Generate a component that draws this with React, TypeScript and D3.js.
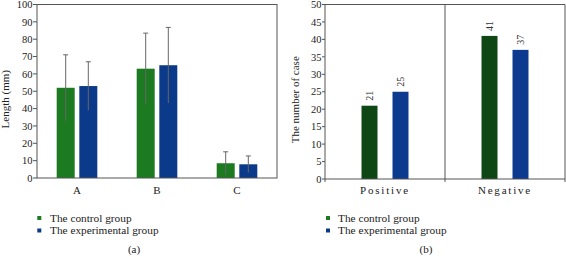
import React from "react";
import * as d3 from "d3";

const catsA = ["A", "B", "C"];
const controlA = [52, 63, 8.5];
const controlErrA = [19, 20.5, 6.6];
const expA = [53, 65, 7.9];
const expErrA = [14, 21.8, 4.8];
const ticksA = [0, 10, 20, 30, 40, 50, 60, 70, 80, 90, 100];

const catsB = ["Positive", "Negative"];
const controlB = [21, 41];
const expB = [25, 37];
const ticksB = [0, 5, 10, 15, 20, 25, 30, 35, 40, 45, 50];

const legendLabels = ["The control group", "The experimental group"];

const FONT = '"Liberation Serif", "DejaVu Serif", serif';

export default function App() {
  // Chart (a)
  const ax0 = 37, ax1 = 277, ay0 = 4.5, ay1 = 178;
  const xA = d3.scaleBand().domain(catsA).range([ax0, ax1]);
  const yA = d3.scaleLinear().domain([0, 100]).range([ay1, ay0]);
  const bwA = 18, offA = 11.3;
  const greenA = "#1c7a20", blueA = "#0c3a8a";

  // Chart (b)
  const bx0 = 325, bx1 = 565, by0 = 4.5, by1 = 179;
  const xB = d3.scaleBand().domain(catsB).range([bx0, bx1]);
  const yB = d3.scaleLinear().domain([0, 50]).range([by1, by0]);
  const bwB = 16, offB = 15.5;
  const greenB = "#0e4614", blueB = "#0b3a8e";

  const errBar = (cx: number, v: number, e: number, key: string) => (
    <g key={key} stroke="#666" strokeWidth={1}>
      <line x1={cx} x2={cx} y1={yA(v + e)} y2={yA(Math.max(0, v - e))} />
      <line x1={cx - 2.5} x2={cx + 2.5} y1={yA(v + e)} y2={yA(v + e)} />
    </g>
  );

  const tf = { fontFamily: FONT } as React.CSSProperties;

  return (
    <svg width={566} height={257} style={{ position: "absolute", left: 0, top: 0, background: "#fff", fontFamily: FONT }}>
      {/* ===== Chart (a) ===== */}
      {catsA.map((c, i) => {
        const cx = xA(c)! + xA.bandwidth() / 2;
        return (
          <g key={c}>
            <rect x={cx - offA - bwA / 2} y={yA(controlA[i])} width={bwA} height={yA(0) - yA(controlA[i])} fill={greenA} />
            <rect x={cx + offA - bwA / 2} y={yA(expA[i])} width={bwA} height={yA(0) - yA(expA[i])} fill={blueA} />
            {errBar(cx - offA, controlA[i], controlErrA[i], "c" + c)}
            {errBar(cx + offA, expA[i], expErrA[i], "e" + c)}
            <text style={tf} x={cx} y={194} textAnchor="middle" fontSize={11} fill="#222">{c}</text>
          </g>
        );
      })}
      <rect x={ax0} y={ay0} width={ax1 - ax0} height={ay1 - ay0} fill="none" stroke="#555" strokeWidth={1} />
      {ticksA.map((t) => (
        <g key={t}>
          <line x1={ax0 - 4} x2={ax0} y1={yA(t)} y2={yA(t)} stroke="#555" />
          <text style={tf} x={32.5} y={yA(t)} dy="0.35em" textAnchor="end" fontSize={10.5} fill="#222">{t}</text>
        </g>
      ))}
      <text style={tf} transform={`translate(9,${(ay0 + ay1) / 2 + 8}) rotate(-90)`} textAnchor="middle" fontSize={11} fill="#222">Length (mm)</text>

      {/* ===== Chart (b) ===== */}
      {catsB.map((c, i) => {
        const cx = xB(c)! + xB.bandwidth() / 2;
        const gx = cx - offB, bx = cx + offB;
        return (
          <g key={c}>
            <rect x={gx - bwB / 2} y={yB(controlB[i])} width={bwB} height={yB(0) - yB(controlB[i])} fill={greenB} />
            <rect x={bx - bwB / 2} y={yB(expB[i])} width={bwB} height={yB(0) - yB(expB[i])} fill={blueB} />
            <text style={tf} transform={`translate(${gx + 3.5},${yB(controlB[i]) - 5}) rotate(-90)`} fontSize={10} fill="#333">{controlB[i]}</text>
            <text style={tf} transform={`translate(${bx + 3.5},${yB(expB[i]) - 5}) rotate(-90)`} fontSize={10} fill="#333">{expB[i]}</text>
            <text style={tf} x={cx} y={194} textAnchor="middle" fontSize={11} letterSpacing={1.8} fill="#222">{c}</text>
          </g>
        );
      })}
      <line x1={bx0} x2={bx1} y1={by0} y2={by0} stroke="#555" />
      <line x1={bx0} x2={bx0} y1={by0} y2={by1} stroke="#555" />
      <line x1={bx0} x2={bx1} y1={by1} y2={by1} stroke="#555" />
      {catsB.map((c) => {
        const xe = xB(c)! + xB.bandwidth();
        return <line key={c} x1={xe} x2={xe} y1={by0} y2={by1 + 3} stroke="#555" />;
      })}
      <line x1={bx0} x2={bx0} y1={by1} y2={by1 + 3} stroke="#555" />
      {ticksB.map((t) => (
        <g key={t}>
          <line x1={bx0 - 3} x2={bx0} y1={yB(t)} y2={yB(t)} stroke="#555" />
          <text style={tf} x={321.5} y={yB(t)} dy="0.35em" textAnchor="end" fontSize={10.5} fill="#222">{t}</text>
        </g>
      ))}
      <text style={tf} transform={`translate(299,${(by0 + by1) / 2 + 8}) rotate(-90)`} textAnchor="middle" fontSize={11} fill="#222">The number of case</text>

      {/* ===== Legends ===== */}
      {[{ sx: 37.3, tx: 50, colors: [greenA, blueA] }, { sx: 326, tx: 338, colors: [greenA, blueA] }].map((lg, li) => (
        <g key={li}>
          {legendLabels.map((l, j) => (
            <g key={l}>
              <rect x={lg.sx} y={218 + j * 12.5 - 2} width={4} height={4} fill={lg.colors[j]} />
              <text style={tf} x={lg.tx} y={218 + j * 12.5} dy="0.35em" fontSize={11.3} fill="#222">{l}</text>
            </g>
          ))}
        </g>
      ))}
      <text style={tf} x={134} y={249} dy="0.35em" textAnchor="middle" fontSize={11} fill="#222">(a)</text>
      <text style={tf} x={426} y={249} dy="0.35em" textAnchor="middle" fontSize={11} fill="#222">(b)</text>
    </svg>
  );
}
